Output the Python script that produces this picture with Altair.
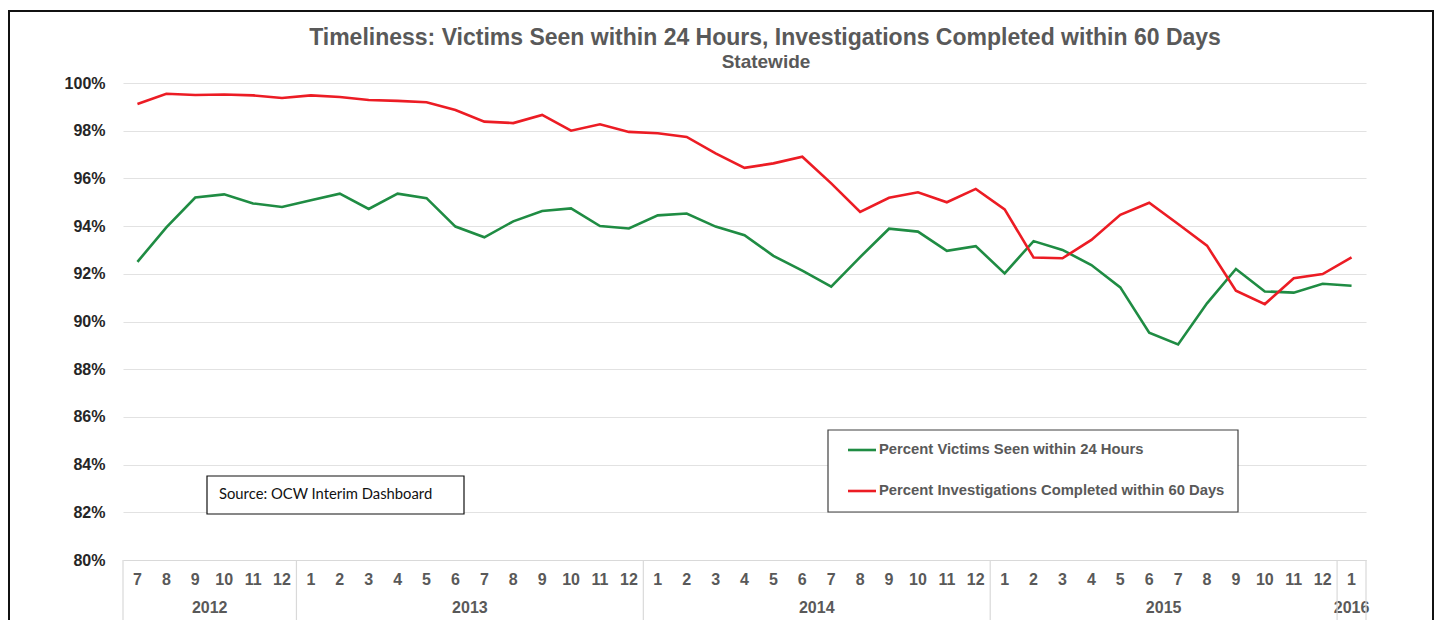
import altair as alt
import pandas as pd

# ---------------- data ----------------
months = [7, 8, 9, 10, 11, 12,
          1, 2, 3, 4, 5, 6, 7, 8, 9, 10, 11, 12,
          1, 2, 3, 4, 5, 6, 7, 8, 9, 10, 11, 12,
          1, 2, 3, 4, 5, 6, 7, 8, 9, 10, 11, 12,
          1]
years = [2012] * 6 + [2013] * 12 + [2014] * 12 + [2015] * 12 + [2016]

victims_seen = [92.50, 93.95, 95.20, 95.33, 94.95, 94.80, 95.08, 95.36, 94.72, 95.36,
                95.17, 93.98, 93.53, 94.20, 94.63, 94.74, 94.00, 93.90, 94.45, 94.53,
                93.98, 93.62, 92.75, 92.13, 91.46, 92.70, 93.89, 93.77, 92.96, 93.16,
                92.02, 93.37, 93.00, 92.37, 91.43, 89.53, 89.04, 90.76, 92.20, 91.26,
                91.21, 91.58, 91.50]
investigations = [99.12, 99.55, 99.50, 99.52, 99.48, 99.37, 99.48, 99.41, 99.29, 99.25,
                  99.19, 98.87, 98.38, 98.32, 98.66, 98.00, 98.27, 97.95, 97.89, 97.74,
                  97.05, 96.44, 96.63, 96.91, 95.79, 94.59, 95.19, 95.42, 95.00, 95.56,
                  94.70, 92.68, 92.65, 93.42, 94.47, 94.98, 94.09, 93.18, 91.29, 90.73,
                  91.81, 91.99, 92.69]

series_names = ["Percent Victims Seen within 24 Hours",
                "Percent Investigations Completed within 60 Days"]
series_colors = ["#1f8c43", "#ec1c24"]

title_text = "Timeliness: Victims Seen within 24 Hours, Investigations Completed within 60 Days"
subtitle_text = "Statewide"
source_text = "Source: OCW Interim Dashboard"

# ---------------- tables ----------------
n = len(months)
rows = []
for i in range(n):
    rows.append({"pos": i + 0.5, "value": victims_seen[i], "series": series_names[0]})
    rows.append({"pos": i + 0.5, "value": investigations[i], "series": series_names[1]})
df = pd.DataFrame(rows)

mdf = pd.DataFrame({"pos": [i + 0.5 for i in range(n)], "label": [str(m) for m in months]})

ydf_rows = []
bounds = [0]
for y in sorted(set(years)):
    idx = [i for i, v in enumerate(years) if v == y]
    ydf_rows.append({"pos": (idx[0] + idx[-1] + 1) / 2, "label": str(y)})
    bounds.append(idx[-1] + 1)
ydf = pd.DataFrame(ydf_rows)
bdf = pd.DataFrame({"pos": bounds})

W, H = 1243, 477
FONT = "Liberation Sans"
GRAY = "#595959"

xscale = alt.Scale(domain=[0, n], nice=False, zero=False)
yscale = alt.Scale(domain=[80, 100], nice=False, zero=False)
cscale = alt.Scale(domain=series_names, range=series_colors)

lines = alt.Chart(df).mark_line(strokeWidth=2.6).encode(
    x=alt.X("pos:Q", scale=xscale,
            axis=alt.Axis(labels=False, ticks=False, grid=False, title=None,
                          domain=True, domainColor="#d9d9d9", domainWidth=1.2)),
    y=alt.Y("value:Q", scale=yscale,
            axis=alt.Axis(values=list(range(80, 101, 2)), labelExpr="datum.value + '%'",
                          title=None, ticks=False, domain=False, labelPadding=18,
                          labelFont=FONT, labelFontSize=16, labelFontWeight="bold",
                          labelColor="#262626", gridColor="#e2e2e2", gridWidth=1.2)),
    color=alt.Color("series:N", scale=cscale, legend=None),
)

month_text = alt.Chart(mdf).mark_text(font=FONT, fontSize=16, fontWeight="bold",
                                      color=GRAY, baseline="middle").encode(
    x=alt.X("pos:Q", scale=xscale), y=alt.value(H + 20), text="label:N")

year_text = alt.Chart(ydf).mark_text(font=FONT, fontSize=16, fontWeight="bold",
                                     color=GRAY, baseline="middle").encode(
    x=alt.X("pos:Q", scale=xscale), y=alt.value(H + 48), text="label:N")

separators = alt.Chart(bdf).mark_rule(color="#d9d9d9", strokeWidth=1.2).encode(
    x=alt.X("pos:Q", scale=xscale), y=alt.value(H), y2=alt.value(H + 80))

# title
title = alt.Chart(pd.DataFrame({"t": [title_text]})).mark_text(
    font=FONT, fontSize=23, fontWeight="bold", color=GRAY, baseline="middle").encode(
    x=alt.value(642), y=alt.value(-45), text="t:N")
subtitle = alt.Chart(pd.DataFrame({"t": [subtitle_text]})).mark_text(
    font=FONT, fontSize=19, fontWeight="bold", color=GRAY, baseline="middle").encode(
    x=alt.value(643), y=alt.value(-21), text="t:N")

# legend box
leg_df = pd.DataFrame({"series": series_names, "row": [0, 1]})
leg_box = alt.Chart(pd.DataFrame({"a": [0]})).mark_rect(
    fill="white", stroke="#404040", strokeWidth=1.2).encode(
    x=alt.value(705), x2=alt.value(1115), y=alt.value(347), y2=alt.value(429))
leg_line0 = alt.Chart(leg_df.iloc[[0]]).mark_rule(strokeWidth=2.6).encode(
    x=alt.value(725), x2=alt.value(753), y=alt.value(367),
    color=alt.Color("series:N", scale=cscale, legend=None))
leg_line1 = alt.Chart(leg_df.iloc[[1]]).mark_rule(strokeWidth=2.6).encode(
    x=alt.value(725), x2=alt.value(753), y=alt.value(408),
    color=alt.Color("series:N", scale=cscale, legend=None))
leg_text0 = alt.Chart(leg_df.iloc[[0]]).mark_text(
    font=FONT, fontSize=14.8, fontWeight="bold", color=GRAY, align="left", baseline="middle").encode(
    x=alt.value(756), y=alt.value(367), text="series:N")
leg_text1 = alt.Chart(leg_df.iloc[[1]]).mark_text(
    font=FONT, fontSize=14.8, fontWeight="bold", color=GRAY, align="left", baseline="middle").encode(
    x=alt.value(756), y=alt.value(408), text="series:N")

# source box
src_box = alt.Chart(pd.DataFrame({"a": [0]})).mark_rect(
    fill="white", stroke="#111111", strokeWidth=1.2).encode(
    x=alt.value(84), x2=alt.value(341), y=alt.value(393), y2=alt.value(431))
src_text = alt.Chart(pd.DataFrame({"t": [source_text]})).mark_text(
    font="Lato", fontSize=14.8, color="#111111", align="left", baseline="middle").encode(
    x=alt.value(96), y=alt.value(412), text="t:N")

# outer frame
frame = alt.Chart(pd.DataFrame({"a": [0]})).mark_rect(
    fill=None, stroke="#111111", strokeWidth=2).encode(
    x=alt.value(-114), x2=alt.value(1310), y=alt.value(-72), y2=alt.value(H + 120))

chart = alt.layer(
    frame, lines, month_text, year_text, separators, title, subtitle,
    leg_box, leg_line0, leg_line1, leg_text0, leg_text1, src_box, src_text
).properties(
    width=W, height=H,
    autosize=alt.AutoSizeParams(type="none"),
    padding={"left": 115, "top": 75, "right": 68, "bottom": 60},
    background="white",
).configure_view(stroke=None)

chart.save("out.html", embed_options={"renderer": "svg", "actions": False})
